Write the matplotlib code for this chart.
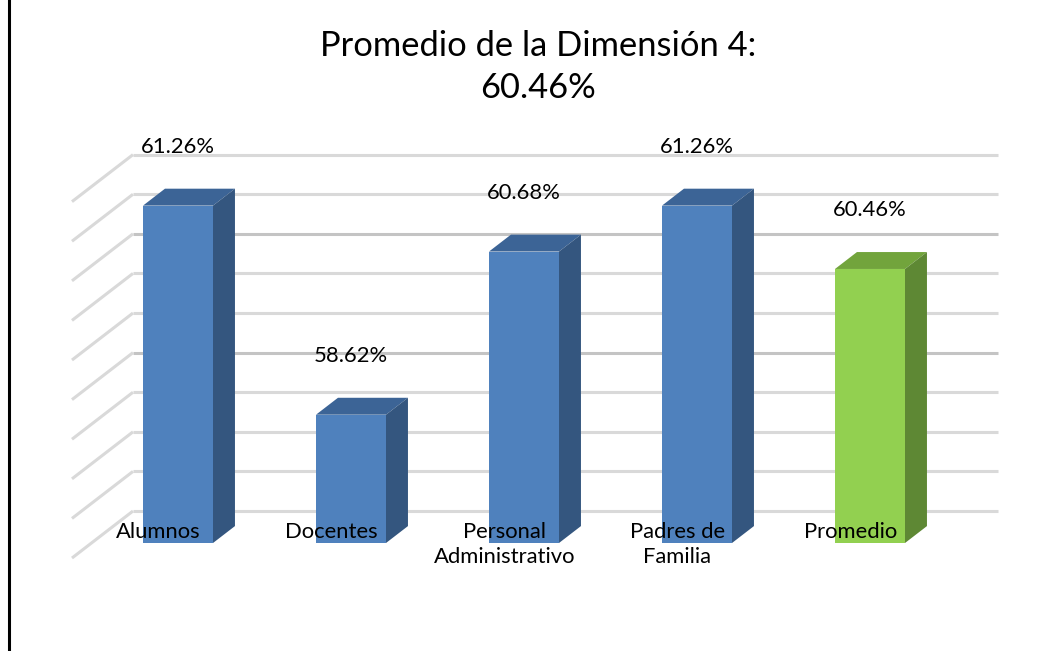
import matplotlib
matplotlib.use("Agg")
import matplotlib.pyplot as plt
from matplotlib.patches import Polygon
from matplotlib.lines import Line2D

# datos
categorias = ["Alumnos", "Docentes", "Personal\nAdministrativo",
              "Padres de\nFamilia", "Promedio"]
valores = [61.26, 58.62, 60.68, 61.26, 60.46]
etiquetas = ["61.26%", "58.62%", "60.68%", "61.26%", "60.46%"]
titulo = "Promedio de la Dimensión 4:\n60.46%"

# eje de valores (tal como el gráfico 3D de Excel)
y_min, y_max, y_paso = 57.0, 61.5, 0.5

# colores (frente, tapa, lateral)
AZUL = ("#4F81BD", "#3C6496", "#34567F")
VERDE = ("#92D050", "#72A43C", "#5E8834")
colores = [AZUL, AZUL, AZUL, AZUL, VERDE]

plt.rcParams["font.family"] = ["Lato", "DejaVu Sans"]

W, H = 1060, 651
fig = plt.figure(figsize=(W / 100, H / 100), dpi=100)
ax = fig.add_axes([0, 0, 1, 1])

# escala: px por categoria y px por unidad de valor
px_x0, px_cat = 178, 173
py_base, px_val = 543, 79.2
ax.set_xlim(-px_x0 / px_cat, (W - px_x0) / px_cat)
ax.set_ylim(y_min - (H - py_base) / px_val, y_min + py_base / px_val)
ax.axis("off")

# profundidad completa del "piso" en unidades de datos
DX, DY = 61 / px_cat, 47 / px_val
D_FRENTE, D_ATRAS = 0.32, 0.68


def proy(x, v, d):
    return x + (d - D_FRENTE) * DX, v + (d - D_FRENTE) * DY


n = len(valores)
x_izq, x_der = -0.5, n - 0.5

# lineas de division: pared del fondo y pared lateral
v = y_min
while v <= y_max + 1e-9:
    gris = "#C4C4C4" if abs(v - 60.5) < 1e-6 or abs(v - 59.0) < 1e-6 else "#D9D9D9"
    x0, y0 = proy(x_izq, v, 1)
    x1, y1 = proy(x_der, v, 1)
    ax.plot([x0, x1], [y0, y1], color=gris, lw=2.2, zorder=1,
            solid_capstyle="butt")
    xa, ya = proy(x_izq, v, 0)
    ax.plot([xa, x0], [ya, y0], color="#D9D9D9", lw=2.2, zorder=1,
            solid_capstyle="butt")
    v += y_paso

# barras
ancho = 70 / px_cat
bdx, bdy = (D_ATRAS - D_FRENTE) * DX, (D_ATRAS - D_FRENTE) * DY
xs = list(range(n))
alturas = [val - y_min for val in valores]
barras = ax.bar(xs, alturas, bottom=y_min, width=ancho,
                color=[c[0] for c in colores], zorder=3, linewidth=0)

for x, val, c in zip(xs, valores, colores):
    l, r = x - ancho / 2, x + ancho / 2
    tapa = Polygon([(l, val), (r, val), (r + bdx, val + bdy), (l + bdx, val + bdy)],
                   closed=True, facecolor=c[1], edgecolor="none", zorder=3)
    lado = Polygon([(r, y_min), (r + bdx, y_min + bdy), (r + bdx, val + bdy), (r, val)],
                   closed=True, facecolor=c[2], edgecolor="none", zorder=3)
    ax.add_patch(tapa)
    ax.add_patch(lado)

# etiquetas de valor
for x, val, txt in zip(xs, valores, etiquetas):
    ax.text(x, val + 0.74, txt, ha="center", va="center", fontsize=15.8,
            color="black", zorder=5)

# etiquetas de categoria
for x, cat in zip(xs, categorias):
    xc, yc = proy(x, y_min, 0)
    ax.text(xc, y_min + 0.27, cat, ha="center", va="top", fontsize=15.8,
            color="black", zorder=5, linespacing=1.35)

# titulo
fig.text(538 / W, 1 - 67 / H, titulo, ha="center", va="center",
         fontsize=24.8, linespacing=1.42)

# linea negra a la izquierda (borde del documento)
fig.add_artist(Line2D([8.5 / W, 8.5 / W], [0, 1], color="black", lw=2.2,
                      transform=fig.transFigure))

fig.savefig("out.png", dpi=100)
